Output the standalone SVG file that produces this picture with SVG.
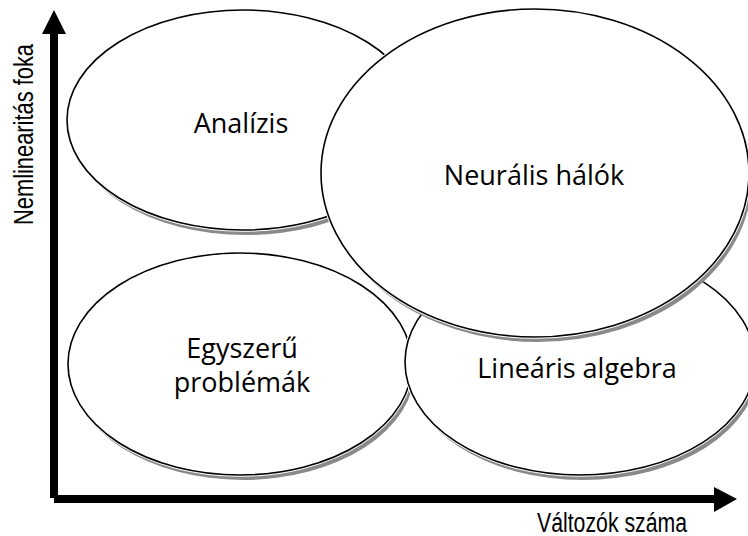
<svg xmlns="http://www.w3.org/2000/svg" width="748" height="536" viewBox="0 0 748 536">
<style>
.shadow{fill:#8a8a8a;stroke:none}
.halo{fill:#fff;stroke:#fff;stroke-width:3.5}
.outline{fill:none;stroke:#000;stroke-width:1.6}
.lbl{font-family:"Open Sans","Noto Sans","Liberation Sans",sans-serif;font-size:27px;fill:#000;text-anchor:middle}
.axlbl{font-family:"Liberation Sans",Arial,sans-serif;font-size:27px;fill:#000}
</style>
<rect width="748" height="536" fill="#fff"/>
<g id="axes">
  <rect x="50" y="32" width="8" height="466" fill="#000"/>
  <polygon points="54,10 42,34 66,34" fill="#000"/>
  <rect x="54" y="495" width="662" height="8" fill="#000"/>
  <polygon points="737,499 714,487 714,512" fill="#000"/>
  <text class="axlbl" transform="translate(33,225) rotate(-90)" textLength="181" lengthAdjust="spacingAndGlyphs">Nemlinearitás foka</text>
  <text class="axlbl" x="537" y="532" textLength="150" lengthAdjust="spacingAndGlyphs">Változók száma</text>
</g>
<g id="analizis">
  <ellipse class="shadow" cx="246" cy="125" rx="176" ry="110"/>
  <ellipse class="halo" cx="243" cy="120" rx="176" ry="110"/>
  <ellipse class="outline" cx="243" cy="120" rx="176" ry="110"/>
  <text class="lbl" x="241" y="133">Analízis</text>
</g>
<g id="egyszeru">
  <ellipse class="shadow" cx="243" cy="369" rx="172" ry="111"/>
  <ellipse class="halo" cx="240" cy="364" rx="172" ry="111"/>
  <ellipse class="outline" cx="240" cy="364" rx="172" ry="111"/>
  <text class="lbl" x="242" y="358">Egyszerű</text>
  <text class="lbl" x="242" y="392">problémák</text>
</g>
<g id="linearis">
  <ellipse class="shadow" cx="583" cy="367" rx="175" ry="113"/>
  <ellipse class="halo" cx="580" cy="362" rx="175" ry="113"/>
  <ellipse class="outline" cx="580" cy="362" rx="175" ry="113"/>
  <text class="lbl" x="577" y="378">Lineáris algebra</text>
</g>
<g id="neuralis">
  <ellipse class="shadow" cx="538" cy="178" rx="214" ry="164"/>
  <ellipse class="halo" cx="535" cy="173" rx="214" ry="164"/>
  <ellipse class="outline" cx="535" cy="173" rx="214" ry="164"/>
  <text class="lbl" x="534" y="185">Neurális hálók</text>
</g>
<g id="connectors"></g>
</svg>
